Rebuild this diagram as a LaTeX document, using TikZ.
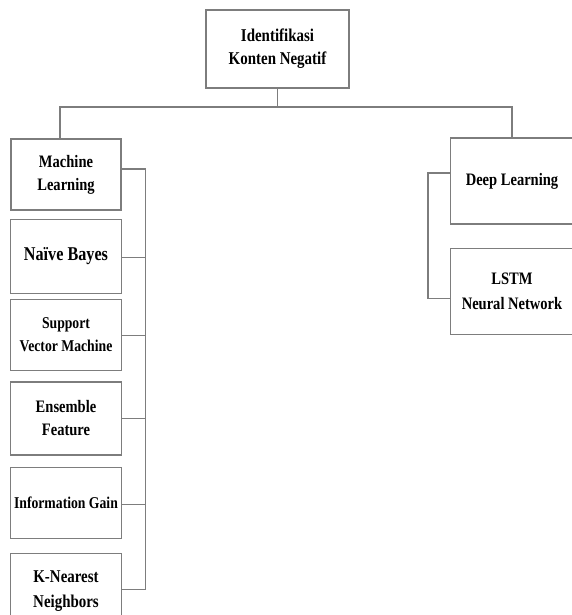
\documentclass[tikz,border=0pt]{standalone}
\usepackage{fontspec}
\setmainfont{Liberation Serif}[FakeStretch=0.83]
\usepackage{xcolor}
\usepackage{tikz}
\definecolor{linegray}{RGB}{125, 125, 125}
\usetikzlibrary{positioning, calc}

\begin{document}
\begin{tikzpicture}[
    x=1pt, y=-1pt,
    catbox/.style={rectangle, draw=linegray, line width=1.3pt, fill=white, inner sep=0pt, minimum width=111pt, align=center, font=\fontsize{17.5}{23}\selectfont\bfseries},
    link/.style={draw=linegray, line width=1.3pt}
]
    \useasboundingbox (0,0) rectangle (571,615);

    \node[catbox, minimum width=143pt, minimum height=78pt, font=\fontsize{18}{23}\selectfont\bfseries] (top) at (277.5,49) {Identifikasi\\Konten Negatif};

    \node[catbox, minimum width=110pt, minimum height=71pt] (ml) at (66,174.5) {Machine\\Learning};
    \node[catbox, minimum height=74pt, below=8pt of ml, font=\fontsize{19.5}{23}\selectfont\bfseries] (nb) {Naïve Bayes};
    \node[catbox, minimum height=71pt, below=5pt of nb, font=\fontsize{16.5}{23}\selectfont\bfseries] (svm) {Support\\Vector Machine};
    \node[catbox, minimum height=73pt, below=10pt of svm] (ens) {Ensemble\\Feature};
    \node[catbox, minimum height=71pt, below=11pt of ens, font=\fontsize{16.5}{23}\selectfont\bfseries] (ig) {Information Gain};
    \node[catbox, minimum height=76pt, below=14pt of ig, font=\fontsize{18}{25}\selectfont\bfseries] (knn) {K-Nearest\\Neighbors};

    \node[catbox, minimum width=123pt, minimum height=86pt] (dl) at (512,181) {Deep Learning};
    \node[catbox, minimum width=123pt, minimum height=86pt, below=23pt of dl, font=\fontsize{17.5}{25}\selectfont\bfseries] (lstm) {LSTM\\Neural Network};

    \coordinate (hub) at (277.5,107);
    \draw[link] (top.south) -- (hub);
    \draw[link] ([xshift=-6pt]ml.north) |- (hub) -| (dl.north);

    \draw[link] ([yshift=5.5pt]ml.east) -- ++(24,0) |- ([yshift=2pt]knn.east);
    \foreach \b/\s in {nb/-1pt, svm/-0.5pt, ens/0pt, ig/-1.5pt}
        \draw[link] ([yshift=\s]\b.east) -- ++(23,0);

    \draw[link] ([yshift=8pt]dl.west) -- ++(-22,0) |- ([yshift=-7pt]lstm.west);
\end{tikzpicture}
\end{document}
